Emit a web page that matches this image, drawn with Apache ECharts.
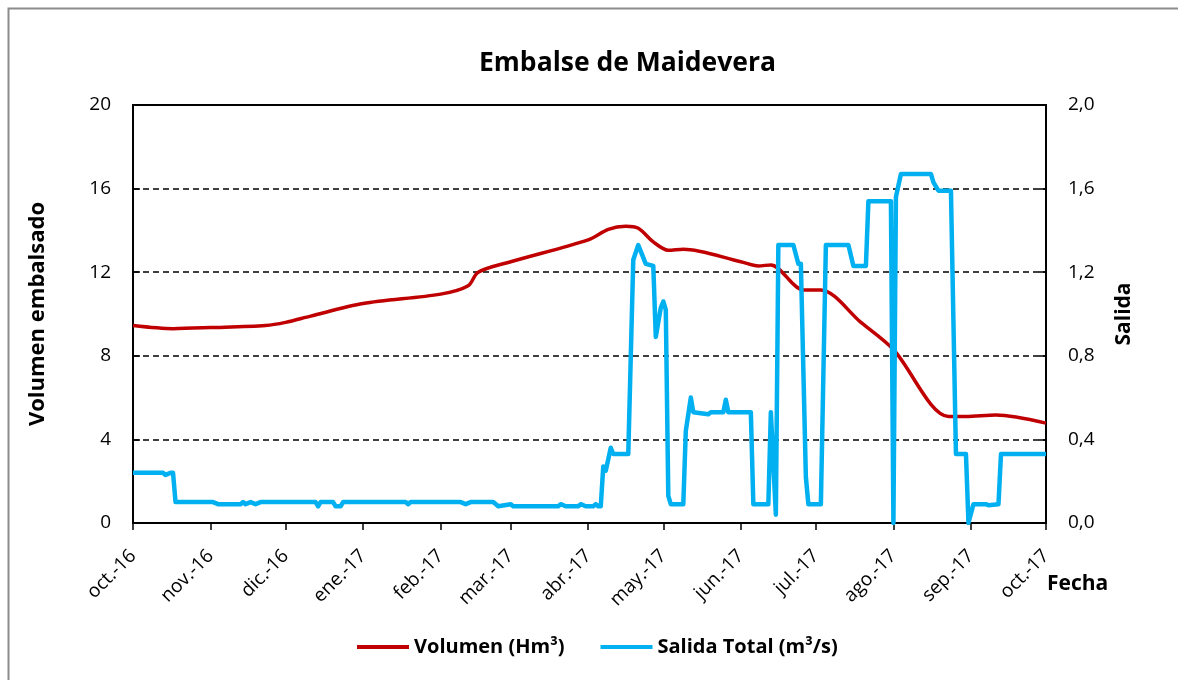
<!DOCTYPE html>
<html>
<head>
<meta charset="utf-8">
<script src="https://cdn.jsdelivr.net/npm/echarts@6/dist/echarts.min.js"></script>
<style>
  html, body { margin: 0; padding: 0; background: #fff; }
  #chart { width: 1178px; height: 680px; }
</style>
</head>
<body>
<div id="chart"></div>
<script>
// ejes
var monthNames = ['ene.', 'feb.', 'mar.', 'abr.', 'may.', 'jun.', 'jul.', 'ago.', 'sep.', 'oct.', 'nov.', 'dic.'];
var startDate = '2016-10-01';
var endDate = '2017-10-01';
var volTicks = [0, 4, 8, 12, 16, 20];
var salTicks = [0, 0.4, 0.8, 1.2, 1.6, 2.0];

// Volumen (Hm3)
var volDates = ['2016-10-01', '2016-10-17', '2016-11-01', '2016-11-23', '2016-12-01', '2016-12-11',
  '2017-01-01', '2017-02-01', '2017-02-12', '2017-02-16', '2017-03-01', '2017-04-01', '2017-04-09',
  '2017-04-16', '2017-04-21', '2017-04-27', '2017-05-03', '2017-05-09', '2017-06-01', '2017-06-08',
  '2017-06-13', '2017-06-26', '2017-07-03', '2017-07-19', '2017-08-01', '2017-08-23', '2017-08-30',
  '2017-09-11', '2017-10-01'];
var volValues = [9.45, 9.3, 9.35, 9.45, 9.6, 9.9,
  10.5, 10.95, 11.35, 12.0, 12.5, 13.55, 14.05,
  14.2, 14.1, 13.45, 13.05, 13.1, 12.5, 12.3,
  12.35, 11.15, 11.15, 9.6, 8.3, 5.1, 5.1,
  5.17, 4.78];

// Salida Total (m3/s)
var salDates = ['2016-10-01', '2016-10-13', '2016-10-14', '2016-10-16', '2016-10-17', '2016-10-18',
  '2016-11-02', '2016-11-04', '2016-11-13', '2016-11-14', '2016-11-15', '2016-11-17', '2016-11-19',
  '2016-11-21', '2016-12-13', '2016-12-14', '2016-12-15', '2016-12-20', '2016-12-21', '2016-12-23', '2016-12-24',
  '2017-01-18', '2017-01-19', '2017-01-20', '2017-02-09', '2017-02-11', '2017-02-13', '2017-02-22', '2017-02-24',
  '2017-03-01', '2017-03-02', '2017-03-20', '2017-03-21', '2017-03-23', '2017-03-28', '2017-03-29',
  '2017-03-31', '2017-04-03', '2017-04-04',
  '2017-04-05', '2017-04-06', '2017-04-07', '2017-04-08', '2017-04-10', '2017-04-11', '2017-04-17',
  '2017-04-19', '2017-04-21', '2017-04-22', '2017-04-24', '2017-04-27', '2017-04-28', '2017-04-30',
  '2017-05-01', '2017-05-02', '2017-05-03', '2017-05-04', '2017-05-09', '2017-05-10', '2017-05-12',
  '2017-05-13', '2017-05-19', '2017-05-20', '2017-05-25', '2017-05-26', '2017-05-27', '2017-06-05',
  '2017-06-06', '2017-06-12', '2017-06-13', '2017-06-15', '2017-06-16', '2017-06-22', '2017-06-24',
  '2017-06-25', '2017-06-27', '2017-06-28', '2017-07-03', '2017-07-05', '2017-07-14', '2017-07-16',
  '2017-07-21', '2017-07-22', '2017-07-31', '2017-08-01', '2017-08-02', '2017-08-04', '2017-08-16',
  '2017-08-17', '2017-08-19', '2017-08-24', '2017-08-26', '2017-08-30', '2017-08-31', '2017-09-02',
  '2017-09-07', '2017-09-08', '2017-09-12', '2017-09-13', '2017-10-01'];
var salValues = [0.24, 0.24, 0.23, 0.24, 0.24, 0.10,
  0.10, 0.09, 0.09, 0.10, 0.09, 0.10, 0.09,
  0.10, 0.10, 0.08, 0.10, 0.10, 0.08, 0.08, 0.10,
  0.10, 0.09, 0.10, 0.10, 0.09, 0.10, 0.10, 0.08,
  0.09, 0.08, 0.08, 0.09, 0.08, 0.08, 0.09,
  0.08, 0.08, 0.09,
  0.08, 0.08, 0.27, 0.25, 0.36, 0.33, 0.33,
  1.26, 1.33, 1.30, 1.24, 1.23, 0.89, 1.03,
  1.06, 1.02, 0.13, 0.09, 0.09, 0.44, 0.60,
  0.53, 0.52, 0.53, 0.53, 0.59, 0.53, 0.53,
  0.09, 0.09, 0.53, 0.04, 1.33, 1.33, 1.24,
  1.24, 0.22, 0.09, 0.09, 1.33, 1.33, 1.23,
  1.23, 1.54, 1.54, 0.0, 1.56, 1.67, 1.67,
  1.63, 1.59, 1.59, 0.33, 0.33, 0.0, 0.09,
  0.09, 0.085, 0.09, 0.33, 0.33];

function pad(n) { return n < 10 ? '0' + n : '' + n; }

// un dia por categoria
var days = [];
var d = new Date(startDate + 'T00:00:00Z');
var end = new Date(endDate + 'T00:00:00Z');
while (d <= end) {
  days.push(d.getUTCFullYear() + '-' + pad(d.getUTCMonth() + 1) + '-' + pad(d.getUTCDate()));
  d = new Date(d.getTime() + 86400000);
}

function isMonthStart(idx, val) { return val.slice(8) === '01'; }
function monthLabel(val) {
  return monthNames[parseInt(val.slice(5, 7), 10) - 1] + '-' + val.slice(2, 4);
}

var volData = volDates.map(function (t, i) { return [t, volValues[i]]; });
var salData = salDates.map(function (t, i) { return [t, salValues[i]]; });

var font = '"Open Sans", sans-serif';
var myChart = echarts.init(document.getElementById('chart'));

var options = {
  backgroundColor: '#fff',
  textStyle: { fontFamily: font },
  title: {
    text: 'Embalse de Maidevera',
    left: 474,
    top: 45,
    textStyle: { fontFamily: font, fontSize: 26.5, fontWeight: 'bold', color: '#000' }
  },
  legend: {
    bottom: 18,
    left: 352,
    itemWidth: 52,
    itemHeight: 4,
    itemGap: 36,
    icon: 'rect',
    textStyle: { fontFamily: font, fontSize: 20, fontWeight: 'bold', color: '#000' },
    data: ['Volumen (Hm³)', 'Salida Total (m³/s)']
  },
  grid: {
    left: 133, right: 132, top: 105, bottom: 157,
    show: true, borderColor: '#000', borderWidth: 2
  },
  xAxis: {
    type: 'category',
    data: days,
    boundaryGap: false,
    axisLine: { lineStyle: { color: '#000', width: 2 } },
    axisTick: { show: true, interval: isMonthStart, length: 7, lineStyle: { color: '#000', width: 1.5 } },
    axisLabel: {
      interval: isMonthStart,
      rotate: 45,
      margin: 30,
      fontSize: 19,
      color: '#000',
      fontFamily: font,
      formatter: monthLabel
    },
    splitLine: { show: false }
  },
  yAxis: [{
    type: 'value',
    min: volTicks[0],
    max: volTicks[volTicks.length - 1],
    interval: 4,
    name: 'Volumen embalsado',
    nameLocation: 'middle',
    nameGap: 84,
    nameTextStyle: { fontFamily: font, fontSize: 22, fontWeight: 'bold', color: '#000' },
    axisLine: { show: true, lineStyle: { color: '#000', width: 2 } },
    axisTick: { show: true, inside: true, length: 7, lineStyle: { color: '#000', width: 1.5 } },
    axisLabel: { fontSize: 19, color: '#000', margin: 22, fontFamily: font },
    splitLine: { show: true, lineStyle: { color: '#000', width: 1.5, type: [6, 4] } }
  }, {
    type: 'value',
    min: salTicks[0],
    max: salTicks[salTicks.length - 1],
    interval: 0.4,
    name: 'Salida',
    nameLocation: 'middle',
    nameGap: 68,
    nameRotate: 90,
    nameTextStyle: { fontFamily: font, fontSize: 21, fontWeight: 'bold', color: '#000' },
    axisLine: { show: true, lineStyle: { color: '#000', width: 2 } },
    axisTick: { show: true, inside: true, length: 7, lineStyle: { color: '#000', width: 1.5 } },
    axisLabel: {
      fontSize: 19, color: '#000', margin: 22, fontFamily: font,
      formatter: function (v) { return v.toFixed(1).replace('.', ','); }
    },
    splitLine: { show: false }
  }],
  graphic: [{
    type: 'rect',
    shape: { x: 8.5, y: 8.5, width: 1200, height: 700 },
    style: { fill: null, stroke: '#8c8c8c', lineWidth: 2 },
    silent: true
  }, {
    type: 'text',
    left: 1047,
    top: 574,
    style: { text: 'Fecha', font: 'bold 21px ' + font, fill: '#000' }
  }],
  series: [{
    name: 'Volumen (Hm³)',
    type: 'line',
    yAxisIndex: 0,
    data: volData,
    smooth: 0.3,
    showSymbol: false,
    symbol: 'none',
    color: '#C00000',
    lineStyle: { color: '#C00000', width: 3.5 },
    z: 3
  }, {
    name: 'Salida Total (m³/s)',
    type: 'line',
    yAxisIndex: 1,
    data: salData,
    showSymbol: false,
    symbol: 'none',
    color: '#00B0F0',
    lineStyle: { color: '#00B0F0', width: 4.5, join: 'round' },
    z: 4
  }]
};
myChart.setOption(options);
</script>
</body>
</html>
